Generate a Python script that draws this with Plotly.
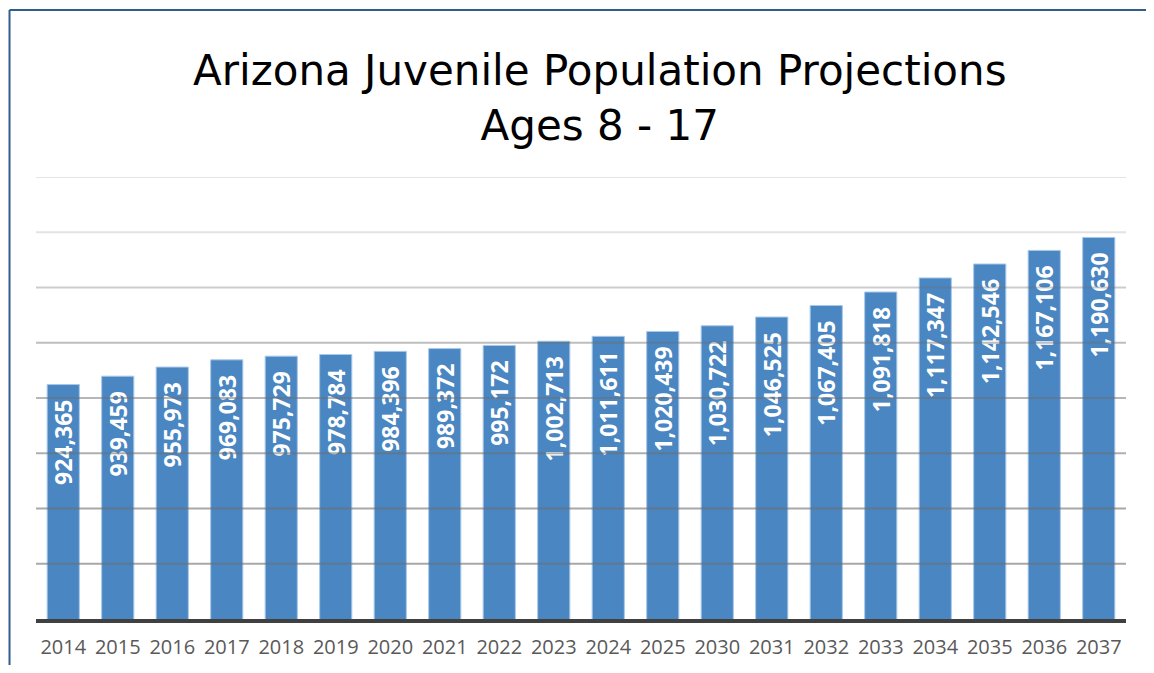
import plotly.graph_objects as go

years = ["2014", "2015", "2016", "2017", "2018", "2019", "2020", "2021", "2022", "2023",
         "2024", "2025", "2030", "2031", "2032", "2033", "2034", "2035", "2036", "2037"]
population = [924365, 939459, 955973, 969083, 975729, 978784, 984396, 989372, 995172, 1002713,
              1011611, 1020439, 1030722, 1046525, 1067405, 1091818, 1117347, 1142546, 1167106, 1190630]
grid_values = [600000, 700000, 800000, 900000, 1000000, 1100000, 1200000, 1300000]

# gridlines fade from darker at the bottom to light at the top
grid_colors = ["rgba(110,110,110,0.6)", "rgba(110,110,110,0.6)", "rgba(110,110,110,0.55)",
               "rgba(110,110,110,0.5)", "rgba(110,110,110,0.45)", "rgba(110,110,110,0.35)",
               "rgba(110,110,110,0.2)", "rgba(110,110,110,0.18)"]

labels = [f"{v:,}\u00a0\u00a0" for v in population]

fig = go.Figure()
fig.add_trace(go.Bar(
    x=years,
    y=population,
    text=labels,
    textposition="inside",
    insidetextanchor="end",
    textangle=-90,
    constraintext="none",
    textfont=dict(family="Open Sans", size=23, color="white", weight="bold"),
    marker_color="#4a86c1",
    marker_line=dict(color="#a8c8ea", width=1),
    hoverinfo="skip",
))

shapes = []
for v, c in zip(grid_values, grid_colors):
    shapes.append(dict(type="line", xref="paper", yref="y", x0=0, x1=1, y0=v, y1=v,
                       line=dict(color=c, width=2), layer="above"))
# frame lines at the left and top of the slide (as close to the edge as the page allows)
frame_x = -0.0243
frame_y = 1.3778
shapes.append(dict(type="line", xref="paper", yref="paper", x0=frame_x, x1=1.02, y0=frame_y, y1=frame_y,
                   line=dict(color="#2f5d8c", width=2)))
shapes.append(dict(type="line", xref="paper", yref="paper", x0=frame_x, x1=frame_x, y0=-0.12, y1=frame_y,
                   line=dict(color="#2f5d8c", width=2)))

fig.add_annotation(
    text="Arizona Juvenile Population Projections<br>Ages 8 - 17",
    xref="paper", yref="paper", x=0.5174, y=1.178,
    xanchor="center", yanchor="middle", showarrow=False,
    font=dict(family="DejaVu Sans", size=42, color="black"),
)

# page body adds an 8px margin, so the figure is kept smaller than the window
fig.update_layout(
    width=1138, height=657,
    margin=dict(l=28, r=20, t=169, b=46, autoexpand=False),
    paper_bgcolor="white",
    plot_bgcolor="white",
    bargap=0.41,
    showlegend=False,
    shapes=shapes,
    xaxis=dict(
        type="category",
        automargin=False,
        showgrid=False,
        showline=True, linecolor="#404040", linewidth=4,
        ticks="outside", ticklen=7, tickcolor="rgba(0,0,0,0)",
        tickfont=dict(family="Open Sans", size=20, color="#595959"),
        fixedrange=True,
    ),
    yaxis=dict(
        range=[500000, 1300000],
        automargin=False,
        showgrid=False,
        showticklabels=False,
        zeroline=False,
        fixedrange=True,
    ),
)

fig.write_html("out.html")
